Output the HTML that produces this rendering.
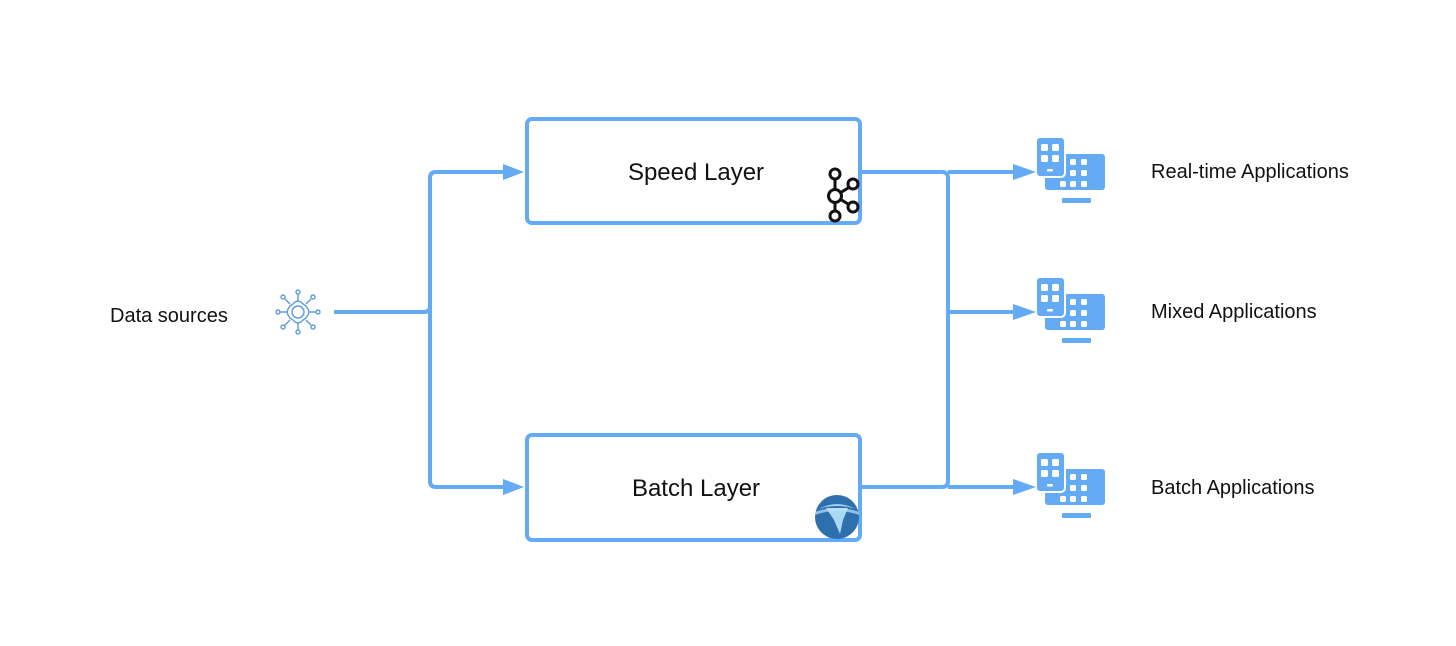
<!DOCTYPE html>
<html><head><meta charset="utf-8"><style>
html,body{margin:0;padding:0;background:#fff;}
svg{display:block;}
text{font-family:"Liberation Sans",sans-serif;fill:#111;}
</style></head><body>
<svg width="1456" height="646" viewBox="0 0 1456 646" xmlns="http://www.w3.org/2000/svg">
<defs>
<symbol id="dev" viewBox="0 0 70 70">
  <rect x="9" y="17" width="60" height="36" rx="3" fill="#64aaf5"/>
  <rect x="26" y="61" width="29" height="5" rx="1" fill="#64aaf5"/>
  <rect x="0" y="0" width="29" height="40" rx="4" fill="#64aaf5" stroke="#fff" stroke-width="2"/>
  <g fill="#fff">
    <rect x="5" y="7" width="7" height="7" rx="1.5"/><rect x="16" y="7" width="7" height="7" rx="1.5"/>
    <rect x="5" y="18" width="7" height="7" rx="1.5"/><rect x="16" y="18" width="7" height="7" rx="1.5"/>
    <rect x="11" y="32" width="6" height="2.5" rx="1"/>
    <rect x="34" y="22" width="6" height="6" rx="1.5"/><rect x="45" y="22" width="6" height="6" rx="1.5"/>
    <rect x="34" y="33" width="6" height="6" rx="1.5"/><rect x="45" y="33" width="6" height="6" rx="1.5"/>
    <rect x="24" y="44" width="6" height="6" rx="1.5"/><rect x="34" y="44" width="6" height="6" rx="1.5"/><rect x="45" y="44" width="6" height="6" rx="1.5"/>
    <rect x="29" y="57" width="22" height="1.5"/>
  </g>
</symbol>
</defs>
<g stroke="#64aaf5" stroke-width="4" fill="none">
  <rect x="527" y="119" width="333" height="104" rx="5"/>
  <rect x="527" y="435" width="333" height="105" rx="5"/>
  <path d="M334 312 H424 Q430 312 430 306 V178 Q430 172 436 172 H506"/>
  <path d="M430 306 V481 Q430 487 436 487 H506"/>
  <path d="M860 172 H942 Q948 172 948 178 V481 Q948 487 942 487 H860"/>
  <path d="M948 172 H1016 M948 312 H1016 M948 487 H1016"/>
</g>
<g fill="#64aaf5">
  <path d="M503 164 L524 172 L503 180Z"/>
  <path d="M503 479 L524 487 L503 495Z"/>
  <path d="M1013 164 L1036 172 L1013 180Z"/>
  <path d="M1013 304 L1036 312 L1013 320Z"/>
  <path d="M1013 479 L1036 487 L1013 495Z"/>
</g>
<use href="#dev" x="1036" y="137" width="70" height="70"/>
<use href="#dev" x="1036" y="277" width="70" height="70"/>
<use href="#dev" x="1036" y="452" width="70" height="70"/>
<g stroke="#5b9be0" stroke-width="1.4" fill="none" transform="translate(298,312)">
  <circle r="6"/>
  <path d="M0-11 L3-10 L5-8 L8-6 L10-3 L11 0 L10 3 L8 6 L5 8 L3 10 L0 11 L-3 10 L-5 8 L-8 6 L-10 3 L-11 0 L-10-3 L-8-6 L-5-8 L-3-10Z"/>
  <g>
    <line x1="0" y1="-11" x2="0" y2="-18"/><circle cx="0" cy="-20" r="2"/>
    <line x1="0" y1="11" x2="0" y2="18"/><circle cx="0" cy="20" r="2"/>
    <line x1="-11" y1="0" x2="-18" y2="0"/><circle cx="-20" cy="0" r="2"/>
    <line x1="11" y1="0" x2="18" y2="0"/><circle cx="20" cy="0" r="2"/>
    <line x1="8" y1="-8" x2="13" y2="-13"/><circle cx="15" cy="-15" r="2"/>
    <line x1="-8" y1="-8" x2="-13" y2="-13"/><circle cx="-15" cy="-15" r="2"/>
    <line x1="8" y1="8" x2="13" y2="13"/><circle cx="15" cy="15" r="2"/>
    <line x1="-8" y1="8" x2="-13" y2="13"/><circle cx="-15" cy="15" r="2"/>
  </g>
</g>
<g stroke="#111" stroke-width="3" fill="#fff">
  <line x1="835" y1="176" x2="835" y2="216"/>
  <line x1="835" y1="196" x2="853" y2="185"/>
  <line x1="835" y1="196" x2="853" y2="207"/>
  <circle cx="835" cy="174" r="5"/>
  <circle cx="835" cy="196" r="6.5"/>
  <circle cx="835" cy="216" r="5"/>
  <circle cx="853" cy="184" r="5"/>
  <circle cx="853" cy="207" r="5"/>
</g>
<circle cx="837" cy="517" r="22" fill="#2e6fae"/>
<path d="M817 510 Q837 498 857 510 Q850 506 837 506 Q824 506 817 510Z" fill="#9fd2f3"/>
<path d="M826 508 L848 508 L843 520 L840 534 L834 520Z" fill="#a9d8f5"/>
<path d="M815 512 Q837 504 859 512 L859 515 Q837 507 815 515Z" fill="#bfe3fa" opacity="0.7"/>
<text x="696" y="180" font-size="24" text-anchor="middle">Speed Layer</text>
<text x="696" y="496" font-size="24" text-anchor="middle">Batch Layer</text>
<text x="110" y="322" font-size="20">Data sources</text>
<text x="1151" y="178" font-size="20">Real-time Applications</text>
<text x="1151" y="318" font-size="20">Mixed Applications</text>
<text x="1151" y="494" font-size="20">Batch Applications</text>
</svg>
</body></html>
